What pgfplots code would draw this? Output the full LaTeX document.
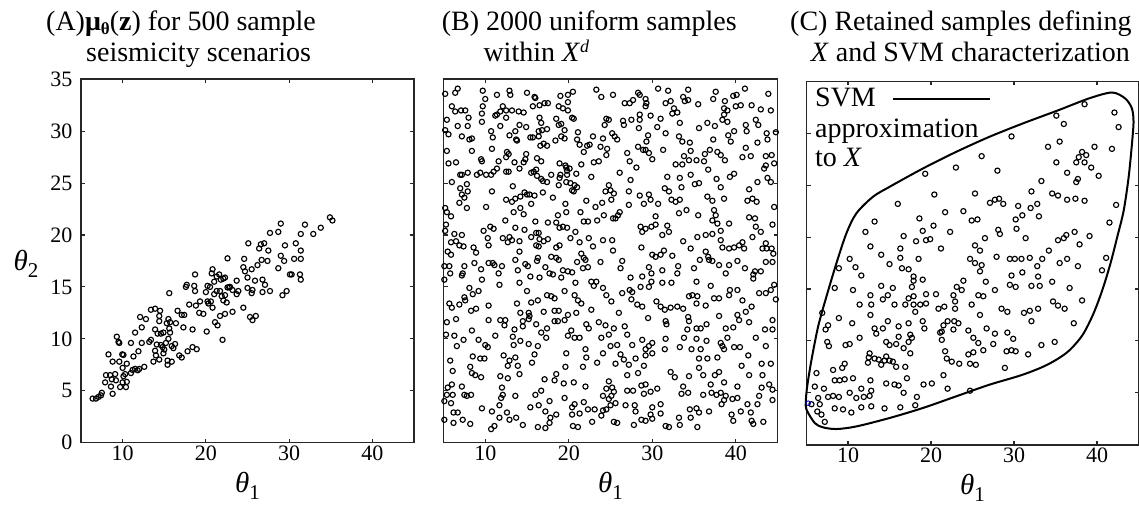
\documentclass[border=0pt]{standalone}
\usepackage{fontspec}
\setmainfont{Liberation Serif}
\usepackage{pgfplots}
\pgfplotsset{compat=1.18}
\newcommand{\tfont}{\fontsize{28}{30}\selectfont}
\newcommand{\thlab}[1]{{\fontsize{29}{30}\selectfont\textit{θ}}\raisebox{-7pt}{\fontsize{21}{22}\selectfont #1}}
\pgfplotsset{
 panel/.style={
  scale only axis, height=363.3pt,
  xmin=5, xmax=45, ymin=0, ymax=35,
  xtick={10,20,30,40}, ytick={0,5,...,35},
  tick align=inside, tick pos=both,
  major tick length=4pt,
  axis line style={line width=1.6pt, black!85},
  every tick/.style={line width=1.1pt, black!85},
  ticklabel style={font=\fontsize{22}{24}\selectfont},
  yticklabel style={xshift=-5pt},
  /pgf/number format/assume math mode=true,
  clip=false,
  xlabel={\thlab{1}},
  every axis x label/.style={at={(axis description cs:0.5,0)}, anchor=base, yshift=-49.5pt},
 },
 pts/.style={only marks, mark=o, mark size=2.6pt, black, line width=1.15pt},
}
\begin{document}
\begin{tikzpicture}
\useasboundingbox (0,0) rectangle (1139pt,511pt);
% ---------- Panel A
\begin{axis}[panel, width=333pt, at={(81pt,68.4pt)}, anchor=south west,
  ylabel={\thlab{2}},
  every axis y label/.style={at={(axis description cs:0,0.5)}, anchor=base west, xshift=-71pt, yshift=-10pt}]
\addplot[pts] coordinates {(6.4,4.24) (6.8,4.24) (7.1,4.4) (7.4,4.55) (7.5,4.8) (7.9,5.8) (8.0,6.5) (8.5,6.5) (9.1,6.6) (8.7,6.1) (9.2,6.0) (8.6,5.4) (8.8,4.7) (8.3,8.5) (8.8,7.8) (9.3,10.2) (9.5,9.7) (9.6,9.6) (9.6,7.8) (9.96,8.5) (10.1,8.45) (10.0,7.2) (10.3,6.6) (10.1,6.4) (10.0,5.8) (10.5,5.85) (10.4,5.35) (9.7,5.35) (10.5,7.6) (11.0,9.6) (11.2,7.0) (11.5,7.1) (11.8,6.97) (12.0,7.1) (11.0,6.7) (11.3,8.3) (11.9,8.8) (11.5,10.6) (12.1,12.1) (12.3,11.1) (12.8,11.9) (12.3,9.6) (13.2,9.7) (13.4,9.9) (12.6,7.3) (13.4,12.8) (13.9,12.9) (14.5,12.7) (13.7,7.8) (14.0,8.4) (13.9,8.85) (14.4,12.2) (14.4,11.7) (13.9,10.9) (14.2,10.5) (14.6,10.5) (14.9,10.6) (14.1,9.45) (14.6,9.4) (14.8,9.2) (14.4,8.0) (14.9,8.6) (15.0,8.97) (15.2,9.6) (15.5,10.0) (15.7,10.6) (15.6,11.0) (15.5,11.9) (15.7,11.6) (15.3,11.5) (15.6,14.4) (15.9,9.3) (16.1,9.1) (16.3,9.5) (16.4,11.5) (15.4,7.9) (15.9,7.8) (15.4,7.5) (16.6,12.7) (17.1,12.3) (17.4,12.3) (17.3,11.1) (16.8,8.4) (17.1,8.2) (17.8,8.8) (18.4,9.2) (18.9,9.0) (17.6,15.0) (17.7,15.2) (18.0,13.3) (18.7,16.2) (18.7,14.6) (18.6,15.1) (18.4,10.9) (18.8,13.2) (19.2,12.5) (19.7,12.4) (19.3,13.6) (20.1,10.7) (20.0,14.5) (20.2,13.6) (20.3,13.4) (20.6,13.6) (20.2,15.1) (20.5,15.0) (20.7,16.3) (20.8,16.7) (21.0,15.5) (21.3,16.0) (21.0,14.3) (20.8,13.0) (21.1,11.6) (21.4,11.3) (21.6,16.2) (21.8,15.7) (22.1,15.8) (22.3,15.9) (21.3,14.6) (21.7,14.6) (21.9,14.1) (22.1,13.7) (22.5,13.5) (21.7,12.2) (22.0,9.9) (22.3,12.4) (22.8,14.95) (22.3,14.2) (22.6,17.75) (22.6,14.95) (22.9,15.0) (23.2,14.7) (23.2,12.6) (23.7,15.6) (23.9,14.6) (23.7,14.3) (24.5,13.0) (24.5,16.9) (24.7,16.5) (24.6,17.7) (25.0,15.9) (25.0,14.9) (25.1,19.2) (25.3,12.1) (25.6,11.8) (26.0,12.2) (25.6,14.7) (25.5,14.4) (25.5,16.7) (25.9,15.6) (26.2,17.1) (26.4,18.7) (26.6,19.1) (27.0,19.2) (26.7,17.6) (27.4,17.5) (27.5,18.5) (26.8,15.7) (27.1,15.2) (26.8,14.5) (27.7,14.6) (27.7,20.2) (28.7,16.8) (28.7,20.3) (29.0,21.1) (29.0,18.0) (29.4,17.5) (29.5,19.0) (29.2,14.2) (29.7,14.6) (30.1,16.2) (30.3,16.2) (30.6,17.7) (30.8,19.2) (31.4,17.7) (31.4,18.5) (31.3,16.2) (31.4,15.7) (31.4,20.1) (31.9,21.0) (32.9,20.1) (33.8,20.7) (34.9,21.7) (35.2,21.4)};
\end{axis}
% ---------- Panel B
\begin{axis}[panel, width=334pt, at={(443.5pt,68.4pt)}, anchor=south west, yticklabels={}]
\addplot[pts] coordinates {
(5.2,33.6) (6.4,33.7) (6.7,34.1) (9.7,33.9) (10.0,33.1) (11.4,33.5) (12.9,33.9) (13.0,33.5) (15.0,33.7) (15.9,33.3) (16.0,33.2) (19.0,33.4) (19.9,33.5) (20.5,33.8) (23.3,34.0) (23.9,33.3)
(6.0,32.4) (6.4,31.9) (7.1,32.0) (7.6,32.0) (8.0,31.3) (9.7,32.4) (9.6,31.7) (11.2,31.5) (11.4,31.6) (11.8,31.9) (12.1,32.4) (12.5,32.0) (13.2,32.0) (14.0,31.9) (14.6,31.8) (15.7,32.4) (16.5,32.5) (17.1,32.7) (17.5,32.7) (18.8,32.4) (19.3,32.2) (19.9,32.8) (19.9,32.0) (20.4,31.3) (20.6,31.2) (24.5,31.2)
(5.4,31.1) (6.7,30.5) (7.9,30.5) (9.6,30.9) (10.7,30.0) (10.9,29.4) (11.8,30.5) (12.5,31.3) (12.9,29.6) (13.6,30.0) (14.1,30.6) (14.9,30.4) (16.5,31.3) (16.7,30.8) (16.4,30.0) (16.8,30.1) (17.4,30.2) (18.5,31.2) (18.8,30.6) (19.1,30.7) (19.5,30.1) (21.1,29.9) (24.3,30.6) (5.2,30.1) (5.6,29.7)
(7.2,29.5) (8.1,29.2) (8.4,29.3) (8.4,28.1) (5.4,28.1) (10.8,28.3) (12.6,28.0) (12.8,27.8) (13.7,29.2) (13.8,29.1) (15.4,29.4) (15.7,29.4) (16.4,29.5) (16.6,28.6) (17.0,28.8) (17.4,28.6) (18.4,29.1) (19.1,29.5) (19.5,29.3) (21.0,29.2) (21.3,28.7) (21.8,28.0) (22.2,28.6) (22.5,28.7) (22.9,29.5) (23.8,28.5) (24.1,29.3) (24.6,28.3)
(5.6,26.9) (6.5,27.0) (9.5,27.3) (9.6,27.1) (11.6,27.1) (12.5,27.5) (13.5,27.0) (14.9,27.8) (14.8,27.3) (14.6,27.0) (16.2,27.4) (16.7,27.1) (18.9,26.9) (19.6,26.7) (20.1,26.4) (19.8,26.2) (21.5,26.8) (23.0,27.0) (23.6,27.1) (24.5,27.7) (7.0,25.8) (7.2,25.8) (7.9,26.0) (9.0,25.8) (9.4,26.0) (10.1,25.8) (10.7,25.8) (11.0,26.1) (11.4,26.4) (12.5,26.1) (12.8,26.1) (14.1,26.4) (15.5,26.0) (15.8,26.1) (16.1,26.3) (16.2,25.7) (16.7,25.4) (16.9,25.2) (17.4,25.1) (17.9,25.8) (19.0,25.8) (19.8,25.8) (20.9,25.9) (22.7,25.6) (19.7,26.5)
(6.0,25.1) (7.0,24.5) (7.2,23.9) (7.8,24.9) (7.9,24.2) (7.5,23.6) (6.9,23.1) (10.8,24.2) (13.3,24.7) (12.5,23.4) (13.2,23.2) (13.6,23.5) (14.2,23.7) (14.7,24.1) (15.0,23.9) (15.3,23.9) (15.9,23.8) (16.9,24.1) (18.1,23.6) (18.8,24.8) (18.9,25.5) (19.7,25.1) (20.2,25.0) (20.4,24.3) (20.7,24.8) (20.6,24.2) (21.0,24.6) (22.1,23.3) (23.2,22.7) (24.0,23.1) (24.4,24.2) (5.2,22.6) (15.5,23.0)
(5.4,22.2) (5.9,21.8) (7.8,22.6) (10.1,22.7) (12.4,21.4) (13.4,22.2) (14.2,22.6) (14.6,22.0) (16.0,21.3) (17.5,21.2) (18.7,21.9) (18.5,21.2) (19.6,23.0) (19.7,22.2) (18.9,20.7) (19.3,20.8) (19.8,20.7) (21.4,22.2) (21.8,21.3) (22.3,21.3) (23.4,21.4) (24.2,21.9) (5.2,20.4) (5.3,21.0) (9.8,20.4) (10.6,20.8) (11.0,20.6) (13.6,20.7) (14.7,20.5)
(6.3,20.1) (7.2,20.0) (5.9,19.3) (6.5,19.4) (6.9,19.0) (7.4,18.9) (8.6,18.8) (8.9,18.3) (10.3,19.7) (10.4,19.0) (12.1,19.7) (12.9,19.8) (13.2,19.5) (12.7,19.3) (14.1,19.4) (15.5,19.8) (16.1,20.2) (16.4,20.2) (16.5,19.6) (17.5,19.6) (17.0,19.4) (16.1,19.0) (16.4,18.9) (18.5,18.8) (18.9,19.0) (20.2,19.7) (20.8,20.3) (21.3,19.3) (22.4,19.7) (22.9,18.9) (24.1,19.5) (5.5,18.4) (5.9,18.1) (14.1,18.4) (16.3,17.8) (17.9,17.9) (18.5,17.8) (21.5,18.2) (21.8,17.8)
(25.3,33.5) (26.7,32.7) (27.3,32.7) (27.7,33.0) (28.3,33.7) (28.5,33.5) (29.2,33.1) (29.3,32.7) (29.2,32.4) (30.7,34.1) (31.9,33.9) (31.6,32.7) (32.2,32.9) (33.7,33.3) (34.3,34.0) (33.9,32.9) (34.3,33.0) (35.5,32.6) (37.3,33.1) (37.6,33.8) (38.7,32.9) (39.7,33.4) (40.1,33.5) (41.1,34.1) (40.0,32.4) (40.6,32.5) (41.9,32.5) (43.0,32.1) (44.2,32.0) (43.9,33.6)
(24.8,31.1) (26.5,31.0) (26.6,30.6) (27.5,31.1) (28.5,31.6) (28.5,31.1) (28.4,30.3) (29.8,31.5) (31.0,31.2) (32.6,32.2) (32.4,31.7) (33.0,31.8) (30.6,30.4) (31.6,29.8) (33.3,30.8) (35.6,30.3) (36.6,30.8) (37.5,30.5) (38.4,31.1) (38.6,31.6) (39.0,32.0) (38.6,32.2) (39.0,30.9) (39.8,30.0) (39.1,29.6) (39.4,29.0) (41.2,30.6) (41.3,30.0) (42.4,31.1) (42.7,30.6) (43.7,29.8) (43.8,29.2) (44.8,29.9)
(25.2,29.8) (25.5,29.5) (25.8,29.2) (27.0,27.9) (27.3,27.1) (28.3,28.5) (28.9,28.2) (29.2,28.2) (29.6,27.9) (29.5,29.6) (29.3,29.0) (30.0,27.3) (31.3,28.2) (33.2,29.5) (33.6,29.0) (34.5,28.9) (34.6,28.1) (33.8,27.6) (34.4,27.2) (35.3,27.2) (36.3,27.8) (36.9,28.2) (37.3,29.2) (37.8,28.0) (38.2,27.7) (38.7,27.2) (36.2,27.1) (36.7,26.3) (32.8,26.8) (33.6,26.8) (41.2,28.4) (40.8,27.5) (41.8,27.6) (42.6,28.9) (43.6,27.6) (44.3,27.7) (43.6,26.7) (43.4,26.4) (44.6,26.9)
(26.1,26.0) (28.1,26.5) (27.4,25.3) (24.8,24.8) (25.0,24.3) (25.4,24.0) (25.1,23.4) (27.2,24.2) (28.5,23.8) (29.6,23.9) (29.8,23.4) (30.7,23.0) (31.5,24.5) (31.8,25.6) (32.0,24.2) (33.3,25.5) (33.5,24.6) (34.6,25.8) (35.1,24.9) (35.6,25.0) (36.6,23.7) (37.2,23.3) (37.7,25.4) (38.2,24.6) (38.6,23.5) (39.3,25.6) (39.8,25.9) (41.6,24.4) (41.4,23.3) (42.0,23.5) (42.5,23.2) (42.6,25.1) (43.8,25.5) (44.2,25.1)
(26.1,22.2) (25.9,21.9) (25.3,21.6) (25.6,21.6) (27.2,22.9) (29.0,23.0) (30.4,21.8) (30.4,21.0) (29.9,20.8) (29.2,20.6) (28.6,20.8) (28.8,20.3) (31.8,20.9) (32.3,23.4) (32.8,23.2) (33.3,23.4) (34.1,22.4) (33.2,22.1) (35.5,21.9) (37.4,22.4) (37.6,21.9) (37.2,21.4) (37.8,21.1) (39.2,21.1) (38.2,20.4) (41.6,21.7) (42.3,21.6) (42.4,20.8) (43.0,20.3) (42.0,19.8) (44.4,21.0) (43.6,19.2) (44.6,22.7)
(25.2,19.5) (25.3,18.5) (28.7,18.8) (31.2,20.0) (32.0,20.3) (33.7,19.4) (34.6,18.7) (35.4,19.8) (36.4,20.0) (37.2,20.1) (38.2,19.5) (38.4,18.8) (39.2,18.7) (39.8,18.8) (40.4,19.0) (40.8,19.3) (41.0,18.7) (43.2,18.7) (43.7,18.7) (44.3,18.7) (44.5,18.2) (30.0,18.1) (30.4,17.9) (31.0,18.1) (31.4,18.5) (32.4,18.0) (36.4,18.4) (36.7,17.9)
(5.1,17.0) (5.1,15.7) (5.7,17.0) (5.8,16.3) (7.3,16.3) (7.5,17.0) (7.2,16.1) (8.7,17.3) (9.5,16.7) (9.6,15.7) (10.4,17.3) (10.9,17.3) (11.1,17.1) (11.6,16.3) (12.0,17.0) (11.7,15.2) (13.6,17.6) (13.9,16.6) (14.1,15.4) (14.8,17.2) (15.1,17.0) (16.2,17.5) (15.4,16.0) (16.5,15.9) (17.2,16.9) (17.7,16.3) (18.1,16.2) (18.8,17.6) (19.1,15.9) (19.3,16.6) (19.9,16.5) (20.4,16.4) (20.8,15.4) (21.0,17.4) (21.7,16.8) (22.3,16.9) (22.0,17.6) (22.7,15.5) (23.0,15.1) (23.3,15.5) (23.8,17.4) (24.1,14.9) (24.5,14.2)
(8.1,14.9) (8.5,14.3) (9.2,14.6) (7.5,14.0) (7.6,13.7) (5.7,13.4) (6.0,13.0) (6.9,13.3) (8.3,12.7) (8.9,12.9) (10.4,13.2) (13.8,13.4) (15.0,14.6) (15.5,13.5) (16.3,13.7) (17.4,14.2) (17.9,14.1) (18.3,13.9) (19.5,14.6) (20.7,14.2) (21.1,13.7) (21.5,13.4) (22.7,12.8) (14.2,12.5) (15.2,12.5) (15.3,12.2) (17.0,12.6) (18.3,12.7) (18.8,12.7) (19.5,11.8) (19.9,12.3) (20.9,12.5)
(5.4,11.6) (6.5,11.9) (8.4,10.8) (10.4,11.8) (11.8,11.8) (12.4,11.8) (12.3,11.3) (11.2,10.3) (13.3,10.2) (13.5,10.9) (14.5,11.2) (14.5,11.7) (15.2,11.9) (16.1,11.4) (16.7,10.6) (17.4,11.0) (17.3,10.1) (18.3,11.7) (18.7,11.7) (19.9,10.3) (20.3,10.8) (20.7,10.1) (21.3,10.1) (22.1,11.4) (22.4,11.0) (23.6,11.6) (24.4,11.3) (23.9,10.1) (5.3,10.4) (6.3,10.3) (7.4,9.9) (6.6,9.3) (9.2,9.9) (10.0,9.4) (10.3,9.2)
(5.8,7.9) (6.1,6.9) (8.5,8.3) (9.4,8.1) (9.9,8.1) (12.2,8.4) (12.9,7.9) (12.7,7.4) (13.6,8.2) (13.9,7.4) (13.4,9.4) (14.2,9.8) (15.2,9.5) (16.3,9.3) (15.9,8.5) (15.6,7.7) (19.7,8.6) (22.0,9.0) (22.1,8.2) (23.4,7.7) (24.1,8.6) (8.2,7.3) (8.4,6.7) (8.8,6.5) (9.5,6.3) (11.8,6.4) (12.7,6.2) (14.1,6.6) (19.6,7.3) (21.7,7.3)
(5.5,5.3) (6.0,5.6) (7.2,5.4) (5.4,4.6) (6.1,4.6) (7.5,4.6) (7.8,4.5) (8.3,4.6) (5.1,4.0) (5.9,3.8) (12.0,5.3) (12.1,4.6) (11.9,4.3) (13.6,4.5) (16.0,4.6) (16.7,5.0) (17.1,6.1) (18.5,6.6) (18.3,6.0) (19.4,5.7) (20.6,5.8) (22.0,5.4) (24.5,5.2) (24.1,4.5) (19.5,4.3) (17.7,4.0)
(6.2,2.9) (6.7,2.9) (7.3,2.2) (8.2,1.8) (9.6,3.3) (10.8,3.0) (11.7,3.6) (11.7,2.4) (12.6,2.9) (12.9,2.2) (13.7,2.4) (14.5,1.7) (15.4,3.4) (16.4,3.6) (17.2,3.0) (17.8,2.4) (18.5,2.7) (17.7,1.9) (16.3,1.5) (17.2,1.4) (20.7,3.7) (21.8,3.9) (20.4,3.4) (21.3,2.8) (22.3,3.2) (23.1,3.2) (24.1,3.1) (24.5,3.2) (23.9,2.6) (20.4,2.7) (20.5,1.6) (21.1,1.5) (22.8,2.0) (10.7,1.3) (11.1,1.6) (5.1,2.2) (6.2,1.9)
(26.4,17.5) (26.2,16.8) (29.6,16.9) (29.9,16.3) (31.2,16.6) (33.1,17.0) (33.0,16.3) (35.0,16.8) (35.7,17.6) (36.8,17.6) (37.2,17.5) (38.0,17.1) (38.8,16.3) (39.2,17.1) (40.2,17.5) (41.1,16.8) (42.1,16.2) (42.3,16.5) (43.0,16.5) (43.6,17.4) (44.4,17.4) (27.4,15.9) (28.8,16.0) (29.9,15.5) (31.2,15.4) (32.3,15.4) (35.3,15.5) (37.0,15.1)
(25.1,13.6) (26.4,14.4) (27.3,14.7) (27.6,14.5) (27.5,13.8) (28.6,15.0) (29.6,15.0) (28.2,13.3) (28.8,13.1) (30.5,13.6) (31.0,13.1) (31.5,12.8) (32.2,13.0) (33.0,13.1) (33.7,12.9) (34.4,14.1) (34.8,14.2) (35.4,14.1) (35.3,13.4) (36.4,13.2) (37.4,13.9) (38.0,13.9) (39.2,14.2) (39.3,14.7) (40.2,14.7) (40.8,13.7) (42.1,15.8) (42.8,14.4) (43.6,14.4) (44.2,14.7) (44.6,15.2) (44.8,13.8)
(26.0,12.5) (29.5,12.0) (31.6,11.7) (31.7,11.4) (34.3,12.1) (34.4,11.7) (36.5,11.4) (35.3,11.0) (35.8,11.0) (34.2,10.9) (38.0,12.2) (38.8,11.0) (39.7,11.1) (40.4,11.8) (40.2,12.3) (41.2,12.6) (41.9,13.1) (41.6,11.6) (43.5,10.9) (44.4,10.9) (44.4,11.8) (25.4,11.0) (24.8,10.4) (26.7,11.2) (27.0,10.4) (25.8,9.4) (27.6,9.4) (28.8,9.9) (29.2,9.0) (29.6,9.3) (30.0,9.6) (29.2,8.4) (30.0,8.6) (25.0,9.3)
(26.2,8.5) (26.6,8.0) (25.6,7.6) (27.2,7.5) (28.0,8.1) (29.0,7.4) (31.6,10.0) (31.5,9.0) (33.3,9.2) (33.8,10.1) (34.7,9.0) (35.3,10.0) (35.8,9.0) (36.5,9.8) (35.6,8.1) (36.6,8.1) (37.8,8.2) (38.2,9.6) (38.4,9.3) (38.6,9.0) (39.0,10.1) (39.8,9.2) (40.5,9.2) (41.5,8.4) (42.4,10.1) (43.6,9.3) (40.7,7.4) (43.1,7.6) (44.2,7.6)
(27.0,6.5) (28.3,6.7) (25.2,5.3) (24.8,5.9) (25.4,4.9) (25.1,4.5) (27.0,5.0) (27.7,5.0) (28.7,5.5) (29.2,5.6) (29.0,4.7) (29.8,4.9) (30.6,5.2) (32.2,6.8) (32.7,6.3) (34.4,6.4) (35.6,7.2) (36.1,6.5) (37.5,6.5) (38.0,6.8) (38.6,5.8) (37.0,5.6) (38.2,4.8) (33.7,5.4) (33.5,4.7) (34.3,4.8) (36.1,4.6) (37.1,4.8) (37.7,4.6) (38.8,4.5) (40.2,5.4) (41.6,6.5) (43.2,6.5) (43.1,5.3) (44.0,5.6) (44.4,5.1) (44.4,4.1) (42.8,4.5) (42.6,3.7)
(24.8,4.2) (25.0,3.6) (25.6,3.8) (26.8,3.6) (27.9,3.6) (28.0,3.0) (30.0,3.4) (31.0,3.7) (31.0,2.8) (29.8,2.7) (25.4,2.0) (25.8,1.9) (27.8,1.7) (28.7,2.2) (29.2,2.1) (30.0,2.3) (31.6,1.6) (32.0,1.5) (33.2,2.4) (33.3,1.7) (34.5,3.2) (34.6,2.4) (35.3,3.3) (35.6,2.9) (36.8,3.0) (38.3,3.7) (38.6,4.1) (39.6,4.2) (40.2,4.3) (41.4,3.7) (41.8,2.9) (40.6,3.0) (39.5,2.7) (39.7,2.1) (41.9,2.1) (42.1,1.8) (43.3,2.0) (35.4,1.5)
};
\end{axis}
% ---------- Panel C
\begin{axis}[panel, width=332pt, at={(806.5pt,66.3pt)}, anchor=south west, yticklabels={}]
\addplot[black, line width=2pt, smooth cycle, tension=0.5] coordinates {
(4.92,4.17) (5.08,5.61) (5.6,8.17) (6.4,11.38) (7.4,14.27) (8.6,17.47) (9.8,20.35) (11.0,22.28) (13.0,23.88) (15.0,24.84) (19.0,26.6) (23.0,28.2) (27.0,29.65) (31.0,30.93) (35.4,32.24) (39.0,33.35) (41.8,33.93) (43.4,33.35) (44.2,32.4) (44.4,31.1) (44.2,28.9) (43.8,25.7) (43.2,22.5) (42.4,19.9) (41.6,17.4) (40.6,14.8) (39.5,12.5) (38.2,10.5) (36.4,8.9) (34.0,7.7) (31.0,6.73) (27.0,5.77) (23.0,4.65) (19.0,3.53) (15.0,2.57) (11.0,1.76) (8.6,1.51) (7.0,1.67) (6.0,2.08) (5.0,3.37)};
\addplot[pts] coordinates {
(19.3,26.1) (23.0,26.7) (20.4,24.1) (16.0,23.2) (21.7,22.4) (13.2,21.5) (12.1,20.5) (18.6,21.8) (20.3,21.1) (16.7,20.1) (18.2,19.6) (19.0,20.6) (19.4,19.7) (19.9,19.8) (21.2,18.9) (22.3,20.5) (12.7,19.1) (14.0,18.3) (16.3,18.9) (16.3,18.0) (18.5,17.9) (15.0,17.4) (16.5,17.0) (17.3,16.9) (17.9,16.2) (17.9,15.8) (19.0,15.9) (17.7,15.2)
(10.2,17.9) (8.9,17.0) (10.9,17.1) (11.6,16.3) (8.4,15.1) (10.6,14.9) (11.4,13.5) (12.7,14.4) (12.8,13.5) (14.0,15.3) (14.8,14.4) (14.2,14.0) (15.4,15.1) (15.6,13.5) (16.9,13.5) (17.3,14.1) (17.9,14.3) (17.9,13.5) (19.4,14.5) (19.4,13.6) (20.6,14.5) (20.9,13.1) (21.6,13.3) (22.7,14.4) (22.9,13.8) (23.1,15.2) (23.7,14.9)
(6.9,12.7) (7.6,11.5) (7.3,11.1) (8.9,12.2) (10.5,11.7) (12.7,12.5) (13.2,11.2) (13.4,10.7) (14.2,11.2) (14.8,11.9) (16.1,11.4) (17.3,11.7) (17.5,10.6) (18.1,12.8) (18.7,13.5) (19.0,11.9) (19.2,11.2) (21.1,10.8) (21.5,11.5) (22.0,11.9) (22.8,11.9) (22.9,13.1) (23.3,11.7)
(7.5,9.9) (7.7,9.5) (9.7,9.6) (10.2,9.7) (11.4,10.3) (12.6,8.8) (12.5,8.4) (12.4,7.9) (13.2,8.3) (13.7,8.2) (14.0,7.7) (14.4,8.1) (15.0,8.1) (14.6,8.5) (15.4,8.0) (15.8,7.5) (16.9,7.5) (14.6,9.9) (15.0,9.6) (15.8,9.7) (16.1,10.4) (16.7,9.3) (17.3,9.9) (17.7,10.3) (17.5,8.8) (21.3,10.9) (21.3,10.1) (22.7,11.1) (21.7,9.0) (21.9,8.3) (22.5,8.0) (23.4,7.8)
(8.2,7.2) (9.3,7.4) (9.6,7.8) (6.2,6.9) (6.0,5.6) (7.1,5.4) (8.4,6.2) (9.0,6.2) (9.6,6.3) (10.6,6.4) (11.6,5.4) (12.7,6.2) (12.8,5.2) (14.6,5.9) (15.6,5.8) (16.1,5.7) (16.7,5.0) (17.1,6.4) (18.3,4.6) (19.1,5.8) (20.1,5.9) (21.5,6.7) (22.0,5.4)
(6.4,4.5) (7.6,4.6) (8.2,4.7) (8.9,4.6) (10.2,5.0) (11.0,4.5) (11.9,4.6) (12.6,4.7) (5.6,3.9) (6.6,3.9) (6.3,3.2) (6.8,2.9) (7.2,2.2) (8.4,3.5) (9.4,3.4) (10.4,3.1) (11.6,3.6) (12.8,3.7) (14.4,3.5) (16.3,3.6) (18.1,3.8)
(38.5,32.8) (42.1,32.0) (42.6,30.6) (35.1,31.7) (36.0,30.9) (29.7,29.7) (34.1,28.7) (35.5,29.2) (39.7,28.7) (41.8,28.5) (26.1,27.8) (38.2,28.2) (37.8,27.7) (38.7,27.9) (37.5,27.2) (38.5,27.2) (35.1,27.2) (39.3,26.7) (40.2,25.9) (28.0,26.4) (36.4,26.2) (37.7,25.6) (37.5,25.3) (33.3,25.4)
(25.3,24.2) (32.1,24.4) (34.6,24.2) (35.3,24.0) (36.4,23.6) (37.4,23.7) (38.5,23.5) (42.3,23.1) (27.1,23.3) (27.7,23.6) (28.2,23.7) (28.7,23.2) (30.5,23.0) (31.0,22.1) (30.2,21.7) (30.3,20.8) (32.0,22.8) (32.8,23.2) (33.0,22.0) (24.9,21.6) (25.6,21.7) (23.9,22.5)
(26.5,19.9) (28.3,20.3) (28.1,20.7) (31.4,19.9) (34.2,18.7) (35.3,19.7) (36.0,19.9) (36.3,20.2) (37.3,20.5) (37.9,19.3) (39.1,20.1) (41.5,21.4) (25.3,19.2) (25.9,18.7) (24.7,17.9) (25.3,17.5) (26.1,17.3) (25.9,16.7) (27.9,18.1) (29.5,17.9) (30.1,17.9) (30.9,17.9) (31.9,18.0) (32.8,17.2) (33.4,17.9) (35.5,17.5) (36.4,17.9) (37.7,17.2) (41.1,18.0) (40.6,16.8)
(23.9,15.8) (26.6,15.7) (27.7,14.9) (31.0,16.6) (29.7,16.3) (29.5,15.4) (30.2,15.2) (32.1,15.3) (32.9,16.2) (33.1,15.3) (34.6,15.7) (36.7,15.1) (25.7,14.4) (26.3,14.3) (24.9,13.5) (25.9,12.5) (28.5,13.1) (29.2,12.8) (31.2,12.7) (31.9,12.9) (32.9,13.1) (32.1,11.9) (34.7,13.8) (35.3,13.4) (36.1,13.1) (37.2,11.7) (38.2,13.9)
(24.5,11.0) (26.7,11.2) (27.7,10.7) (25.1,10.3) (25.7,9.8) (26.3,9.1) (25.1,8.9) (24.7,7.8) (24.5,8.7) (25.4,7.7) (27.5,9.7) (29.2,10.8) (29.9,10.2) (29.7,9.1) (29.1,9.0) (30.2,9.0) (31.7,8.7) (33.3,9.6) (34.9,9.9) (28.9,7.4) (24.7,5.2)
};
\addplot[only marks, mark=o, mark size=2.3pt, line width=0.9pt, color=blue!70!black] coordinates {(5.2,4.0)};
\end{axis}
% ---------- titles
\begin{scope}[every node/.style={inner sep=0pt, anchor=base west, font=\tfont}]
\node at (46pt,480.5pt) {(A)\textbf{μ}\raisebox{-4pt}{\fontsize{17}{18}\selectfont\textbf{θ}}(\textbf{z}) for 500 sample};
\node at (86pt,449.5pt) {seismicity scenarios};
\node at (441.7pt,480.5pt) {(B) 2000 uniform samples};
\node at (483.3pt,449.5pt) {within \textit{X}\raisebox{9pt}{\fontsize{18}{18}\selectfont\textit{d}}};
\node at (790pt,480.5pt) {(C) Retained samples defining};
\node at (810.7pt,449.5pt) {\textit{X} and SVM characterization};
\node at (815pt,404.3pt) {SVM};
\node at (815pt,373pt) {approximation};
\node at (815pt,344.3pt) {to \textit{X}};
\end{scope}
\draw[line width=1.6pt] (893pt,412pt) -- (990pt,412pt);
\end{tikzpicture}
\end{document}
